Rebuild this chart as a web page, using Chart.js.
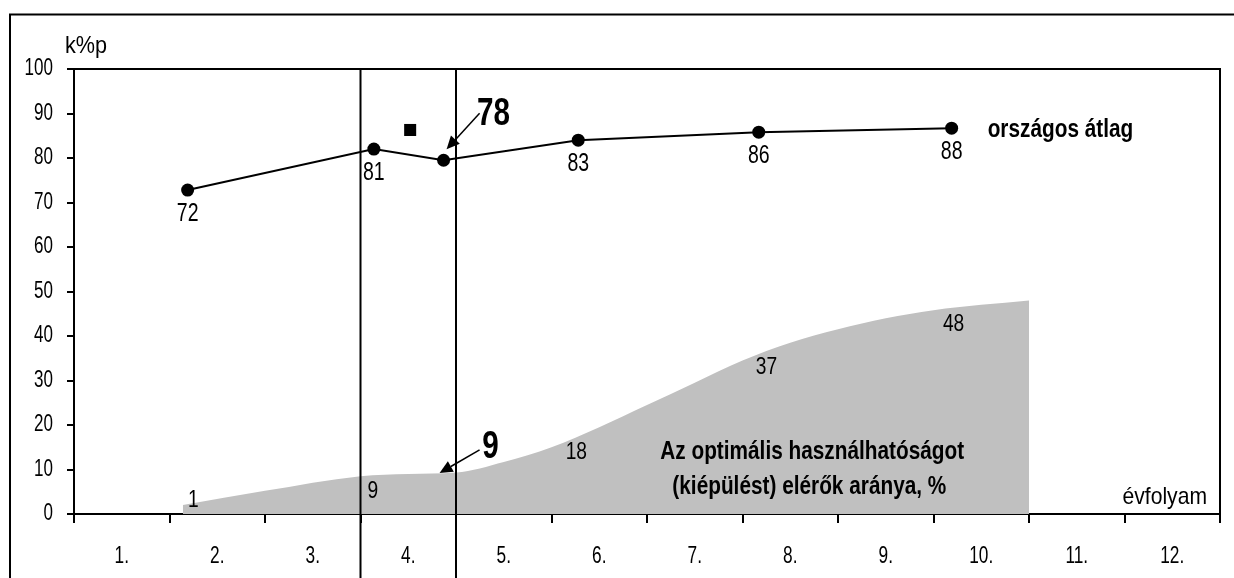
<!DOCTYPE html>
<html>
<head>
<meta charset="utf-8">
<script src="https://cdn.jsdelivr.net/npm/chart.js@4.4.1/dist/chart.umd.min.js"></script>
<style>
  html, body { margin: 0; padding: 0; background: #fff; }
  #wrap { width: 1234px; height: 578px; }
</style>
</head>
<body>
<div id="wrap"><canvas id="chart" width="1234" height="578"></canvas></div>
<script>
// évfolyamok (kategóriák az x tengelyen)
const gradeLabels = ['1.', '2.', '3.', '4.', '5.', '6.', '7.', '8.', '9.', '10.', '11.', '12.'];

// országos átlag (k%p) - a vonal pontjai
const avgX = [1.19, 3.14, 3.87, 5.28, 7.17, 9.19];
const avgY = [72.8, 82, 79.5, 84, 85.8, 86.7];
const avgLabels = ['72', '81', '78', '83', '86', '88'];

// optimális használhatóságot elérők aránya, % - a szürke terület
const optX = [1.14, 2.0, 3.0, 3.5, 4.0, 4.5, 5.0, 5.5, 6.0, 6.5, 7.0, 7.5, 8.0, 8.5, 9.0, 9.5, 10.0];
const optY = [2, 5.2, 8.5, 9, 9.3, 11.7, 15, 19.5, 24.5, 29.5, 34.5, 38.5, 41.5, 44, 45.8, 47, 48];
const optLabelX = [1.25, 3.13, 5.26, 7.25, 9.21];
const optLabels = ['1', '9', '18', '37', '48'];

// külön jelölő (fekete négyzet)
const markX = [3.52];
const markY = [86.3];

const FONT = "'Liberation Sans', Arial, sans-serif";

// keskeny betű: vízszintesen összenyomott szöveg
function txt(ctx, s, x, y, size, bold, align, sx) {
    ctx.save();
    ctx.translate(x, y);
    ctx.scale(sx || 0.78, 1);
    ctx.font = (bold ? 'bold ' : '') + size + 'px ' + FONT;
    ctx.textAlign = align || 'center';
    ctx.textBaseline = 'middle';
    ctx.fillText(s, 0, 0);
    ctx.restore();
}

function arrow(ctx, x1, y1, x2, y2) {
    const ang = Math.atan2(y2 - y1, x2 - x1);
    const len = 13, w = 6;
    ctx.beginPath();
    ctx.moveTo(x1, y1);
    ctx.lineTo(x2 - Math.cos(ang) * len, y2 - Math.sin(ang) * len);
    ctx.stroke();
    ctx.beginPath();
    ctx.moveTo(x2, y2);
    ctx.lineTo(x2 - Math.cos(ang) * len - Math.sin(ang) * w, y2 - Math.sin(ang) * len + Math.cos(ang) * w);
    ctx.lineTo(x2 - Math.cos(ang) * len + Math.sin(ang) * w, y2 - Math.sin(ang) * len - Math.cos(ang) * w);
    ctx.closePath();
    ctx.fill();
}

// a terület magassága egy adott x helyen (csak a feliratok elhelyezéséhez)
function optAt(x) {
    for (let i = 1; i < optX.length; i++) {
        if (x <= optX[i]) {
            const t = (x - optX[i - 1]) / (optX[i] - optX[i - 1]);
            return optY[i - 1] + t * (optY[i] - optY[i - 1]);
        }
    }
    return optY[optY.length - 1];
}

const extras = {
    id: 'extras',
    beforeDraw(chart) {
        const ctx = chart.ctx;
        ctx.save();
        ctx.fillStyle = '#fff';
        ctx.fillRect(0, 0, chart.width, chart.height);
        ctx.restore();
    },
    afterDatasetsDraw(chart) {
        const { ctx, chartArea: a, scales } = chart;
        const xs = scales.xv, ys = scales.y;
        ctx.save();
        ctx.strokeStyle = '#000';
        ctx.fillStyle = '#000';
        ctx.lineWidth = 2;

        // külső keret
        ctx.beginPath();
        ctx.moveTo(10, chart.height);
        ctx.lineTo(10, 14.5);
        ctx.lineTo(chart.width, 14.5);
        ctx.stroke();

        // a rajzterület felső és jobb széle
        ctx.beginPath();
        ctx.moveTo(a.left, a.top);
        ctx.lineTo(a.right, a.top);
        ctx.lineTo(a.right, a.bottom);
        ctx.stroke();

        // függőleges elválasztók a 4. évfolyam körül
        [3, 4].forEach(v => {
            const px = xs.getPixelForValue(v);
            ctx.beginPath();
            ctx.moveTo(px, a.top);
            ctx.lineTo(px, chart.height);
            ctx.stroke();
        });

        // tengelyfeliratok (keskeny betűvel)
        scales.y.ticks.forEach((t, i) => {
            txt(ctx, String(t.value), a.left - 21, scales.y.getPixelForTick(i), 23, false, 'right', 0.74);
        });
        gradeLabels.forEach((g, i) => {
            txt(ctx, g, scales.x.getPixelForTick(i), 556, 24, false, 'center', 0.72);
        });

        // átlag feliratok a pontok alatt
        avgX.forEach((x, i) => {
            if (i === 2) return;
            txt(ctx, avgLabels[i], xs.getPixelForValue(x), ys.getPixelForValue(avgY[i]) + 24, 25, false);
        });

        // kiemelt érték: 78
        const p78x = xs.getPixelForValue(avgX[2]), p78y = ys.getPixelForValue(avgY[2]);
        ctx.lineWidth = 1.5;
        arrow(ctx, p78x + 36, p78y - 47, p78x + 3, p78y - 11);
        txt(ctx, avgLabels[2], p78x + 50, p78y - 46, 38, true);

        // kiemelt érték: 9
        const p9x = xs.getPixelForValue(avgX[2]), p9y = ys.getPixelForValue(optAt(avgX[2]));
        arrow(ctx, p9x + 36, p9y - 23, p9x - 4, p9y);
        txt(ctx, '9', p9x + 47, p9y - 25, 38, true);

        // a terület feliratai
        optLabelX.forEach((x, i) => {
            const y = Math.min(ys.getPixelForValue(optAt(x)) + 16, a.bottom - 14);
            txt(ctx, optLabels[i], xs.getPixelForValue(x), y, 24, false, 'center', 0.8);
        });

        // sorozatnevek
        const last = avgX.length - 1;
        txt(ctx, 'országos átlag', xs.getPixelForValue(avgX[last]) + 36, ys.getPixelForValue(avgY[last]) + 2, 26, true, 'left', 0.8);
        txt(ctx, 'Az optimális használhatóságot', xs.getPixelForValue(7.73), ys.getPixelForValue(13.9), 26, true, 'center', 0.8);
        txt(ctx, '(kiépülést) elérők aránya, %', xs.getPixelForValue(7.7), ys.getPixelForValue(6.0), 26, true, 'center', 0.8);

        // tengelycímek
        txt(ctx, 'évfolyam', a.right - 13, a.bottom - 17, 24, false, 'right', 0.88);
        txt(ctx, 'k%p', a.left - 9, a.top - 23, 24, false, 'left', 0.9);
        ctx.restore();
    }
};

new Chart(document.getElementById('chart').getContext('2d'), {
    data: {
        datasets: [
            {
                type: 'line',
                label: 'országos átlag',
                data: avgX.map((x, i) => ({ x: x, y: avgY[i] })),
                xAxisID: 'xv',
                borderColor: '#000',
                borderWidth: 2,
                pointRadius: 6.5,
                pointBackgroundColor: '#000',
                pointBorderWidth: 0,
                order: 0
            },
            {
                type: 'line',
                label: 'jelölő',
                data: markX.map((x, i) => ({ x: x, y: markY[i] })),
                xAxisID: 'xv',
                showLine: false,
                pointStyle: 'rect',
                pointRadius: 8.5,
                pointBackgroundColor: '#000',
                pointBorderWidth: 0,
                order: 1
            },
            {
                type: 'line',
                label: 'optimális',
                data: optX.map((x, i) => ({ x: x, y: optY[i] })),
                xAxisID: 'xv',
                fill: 'origin',
                backgroundColor: '#c0c0c0',
                borderColor: 'rgba(0,0,0,0)',
                borderWidth: 0,
                pointRadius: 0,
                cubicInterpolationMode: 'monotone',
                order: 2
            }
        ]
    },
    options: {
        responsive: false,
        animation: false,
        layout: { padding: { left: 0, right: 14, top: 69, bottom: 0 } },
        plugins: {
            legend: { display: false },
            tooltip: { enabled: false }
        },
        scales: {
            x: {
                type: 'category',
                labels: gradeLabels,
                offset: true,
                grid: { offset: true, drawOnChartArea: false, tickLength: 9, color: '#000', lineWidth: 2 },
                border: { color: '#000', width: 2 },
                ticks: { display: false, autoSkip: false },
                afterFit: s => { s.height = 64; }
            },
            xv: {
                type: 'linear',
                display: false,
                min: 0,
                max: 12
            },
            y: {
                min: 0,
                max: 100,
                ticks: { stepSize: 10, display: false },
                grid: { drawOnChartArea: false, tickLength: 7, color: '#000', lineWidth: 2 },
                border: { color: '#000', width: 2 },
                afterFit: s => { s.width = 74; }
            }
        }
    },
    plugins: [extras]
});
</script>
</body>
</html>
